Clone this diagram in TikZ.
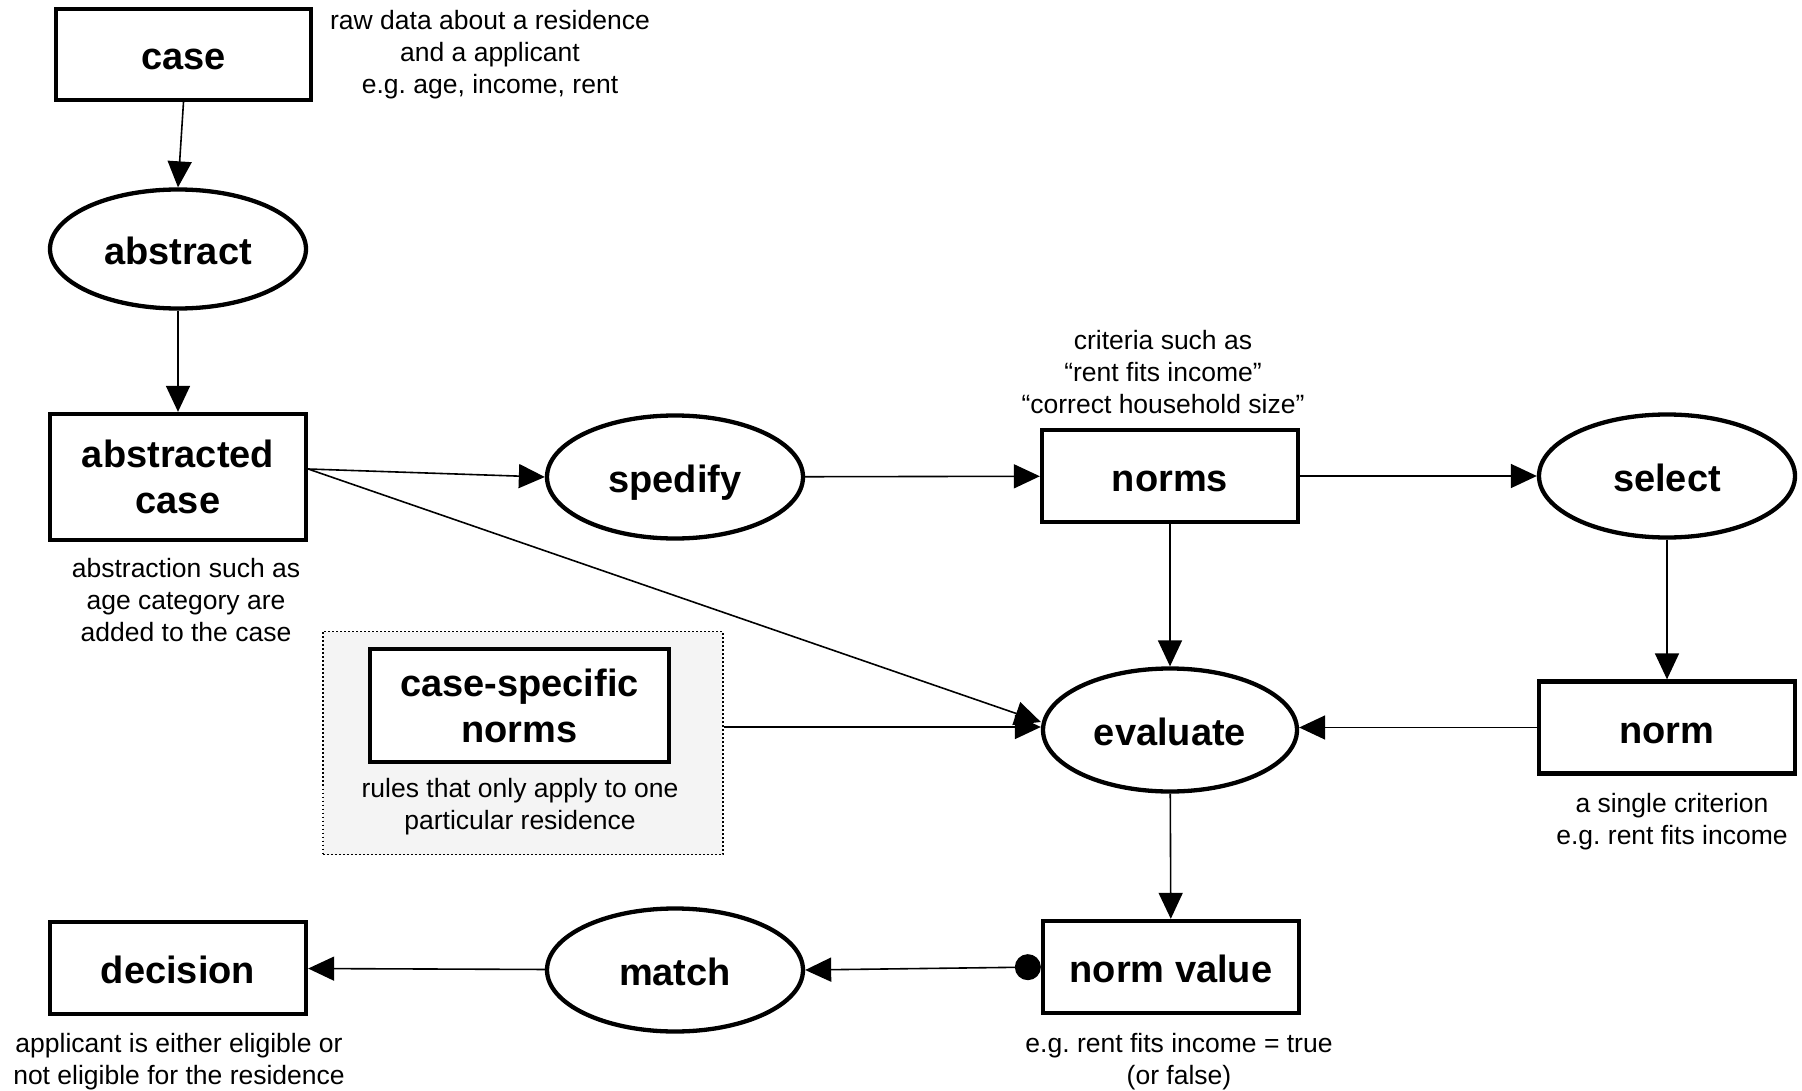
\documentclass[tikz,border=0pt]{standalone}
\usepackage{fontspec}
\setmainfont{Liberation Sans}
\usetikzlibrary{shapes.geometric,arrows.meta}
\definecolor{groupfill}{HTML}{F4F4F4}
\frenchspacing
\begin{document}
\begin{tikzpicture}[x=1pt,y=-1pt,
  label font/.style={font=\fontsize{38}{46}\selectfont\bfseries},
  databox/.style={draw,fill=white,line width=4.3pt,rectangle,inner sep=0pt,align=center,
    label font,minimum width=256pt,minimum height=92pt},
  process/.style={draw,fill=white,line width=4.3pt,ellipse,inner sep=0pt,align=center,
    label font,minimum width=256pt,minimum height=123pt},
  oneline/.style={text height=31pt,text depth=0pt},
  note/.style={inner sep=0pt,align=center,font=\fontsize{26.5}{32}\selectfont},
  flow/.style={line width=1.6pt,-{Triangle[length=26pt,width=24pt]}},
]
\useasboundingbox (0,0) rectangle (1802,1091);

% grouping of the case-specific norms
\node[draw,fill=groupfill,line width=1.8pt,dash pattern=on 1.8pt off 2.2pt,
  minimum width=400pt,minimum height=223pt,inner sep=0pt] (group) at (523,743) {};

% data objects
\node[databox,oneline,minimum width=255pt,minimum height=91pt] (case) at (183.5,54.5) {case};
\node[databox,minimum height=126pt] (abstracted) at (178,477) {abstracted\\case};
\node[databox,oneline] (norms) at (1170,476) {norms};
\node[databox,oneline] (norm) at (1667,727.5) {norm};
\node[databox,minimum width=299pt,minimum height=113pt] (specific) at (519.5,705.5) {case-specific\\norms};
\node[databox,oneline] (normvalue) at (1171,967) {norm value};
\node[databox,oneline] (decision) at (178,968) {decision};

% processes
\node[process,oneline,minimum height=119pt] (abstract) at (178,249) {abstract};
\node[process,oneline] (spedify) at (675,477) {spedify};
\node[process,oneline] (select) at (1667,476) {select};
\node[process,oneline,minimum width=254pt] (evaluate) at (1170,730) {evaluate};
\node[process,oneline] (match) at (675,970) {match};

% annotations
\node[note] (casenote) at (490,54.5) {raw data about a residence\\and a applicant\\e.g. age, income, rent};
\node[note] (abstractednote) at (186,600) {abstraction such as\\age category are\\added to the case};
\node[note] (normsnote) at (1163,372) {criteria such as\\\char"201C rent fits income\char"201D\\\char"201C correct household size\char"201D};
\node[note] (normnote) at (1672,821.5) {a single criterion\\e.g. rent fits income};
\node[note] (specificnote) at (520,806.5) {rules that only apply to one\\particular residence};
\node[note] (normvaluenote) at (1179,1061.5) {e.g. rent fits income = true\\(or false)};
\node[note] (decisionnote) at (179,1061.5) {applicant is either eligible or\\not eligible for the residence};

% connectors
\coordinate (fork) at ([yshift=8pt]abstracted.east);
\coordinate (groupout) at ([yshift=3pt]group.east |- evaluate.west);
\draw[flow] (case.south) -- (abstract.north);
\draw[flow] (abstract) -- (abstracted);
\draw[flow] (fork) -- (spedify.west);
\draw[flow] (fork) -- ([yshift=8pt]evaluate.west);
\draw[flow] (spedify) -- (norms);
\draw[flow] (norms) -- (select);
\draw[flow] (select) -- (norm);
\draw[flow] (norms) -- (evaluate);
\draw[flow] (norm.west) -- (norm.west -| evaluate.east);
\draw[flow] (groupout) -- (groupout -| evaluate.west);
\draw[flow] (evaluate) -- (normvalue);
\draw[flow,{Circle[length=26pt]}-{Triangle[length=26pt,width=24pt]}] (normvalue.west) -- (match.east);
\draw[flow] (match) -- (decision);
\end{tikzpicture}
\end{document}
